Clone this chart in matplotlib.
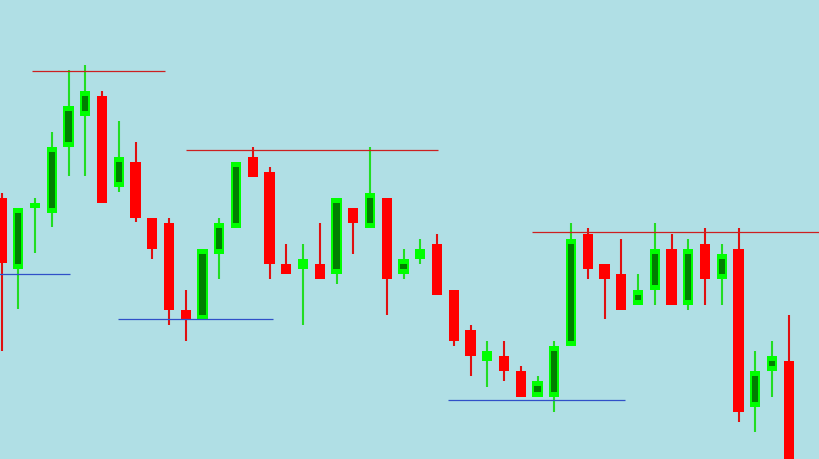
import numpy as np
import matplotlib.pyplot as plt

# OHLC (arbitrary price units, no axis shown)
opens = [261, 190, 251, 246, 312, 343, 363, 272, 297, 241, 236, 149, 139, 205, 231, 302,
         287, 195, 190, 195, 185, 251, 231, 261, 185, 200, 215, 169, 129, 98, 103, 88,
         62, 62, 113, 225, 195, 185, 154, 169, 210, 154, 215, 180, 210, 52, 88, 98]
highs = [266, 251, 261, 327, 389, 394, 368, 338, 317, 241, 241, 169, 210, 241, 297, 312,
         292, 215, 215, 236, 261, 251, 312, 261, 210, 220, 225, 169, 134, 118, 118, 93,
         83, 118, 236, 231, 195, 220, 185, 236, 225, 220, 231, 215, 231, 108, 118, 144]
lows = [108, 150, 206, 232, 283, 283, 256, 267, 237, 200, 134, 118, 139, 180, 231, 282,
        180, 185, 134, 180, 175, 205, 231, 144, 180, 195, 164, 113, 83, 72, 78, 62,
        62, 47, 113, 180, 140, 149, 154, 154, 154, 149, 154, 154, 37, 27, 62, -10]
closes = [196, 251, 256, 312, 353, 368, 256, 302, 241, 210, 149, 140, 210, 236, 297, 282,
          195, 185, 200, 180, 261, 236, 266, 180, 200, 210, 164, 118, 103, 108, 88, 62,
          78, 113, 220, 190, 180, 149, 169, 210, 154, 210, 180, 205, 47, 88, 103, -10]

# support / resistance levels: (level, start index, end index)
resist_levels = [388, 309, 227]
resist_start = [1.8, 11.0, 31.67]
resist_end = [9.75, 26.06, 49.0]
support_levels = [185, 140, 59]
support_start = [-0.2, 6.96, 26.66]
support_end = [4.09, 16.2, 37.22]

bg = '#B0DFE5'
bull = '#00FF00'
bull_inner = '#007F00'
bear = '#FF0000'

fig = plt.figure(figsize=(8.19, 4.60), dpi=100)
ax = fig.add_axes([0, 0, 1, 1])
ax.set_facecolor(bg)
fig.patch.set_facecolor(bg)

x = np.arange(len(opens))
o = np.array(opens, float)
h = np.array(highs, float)
l = np.array(lows, float)
c = np.array(closes, float)
up = c > o

body_w = 0.62
inset_x = 0.12
inset_y = 5

# wicks
ax.vlines(x[up], l[up], h[up], color='#22DD22', lw=1.5, zorder=1)
ax.vlines(x[~up], l[~up], h[~up], color='#E01010', lw=1.5, zorder=1)

# bearish bodies
ax.bar(x[~up], (o - c)[~up], bottom=c[~up], width=body_w, color=bear, zorder=2)

# bullish bodies: bright frame with dark centre
ax.bar(x[up], (c - o)[up], bottom=o[up], width=body_w, color=bull, zorder=2)
inner_h = (c - o)[up] - 2 * inset_y
keep = inner_h > 0
ax.bar(x[up][keep], inner_h[keep], bottom=o[up][keep] + inset_y,
       width=body_w - 2 * inset_x, color=bull_inner, zorder=3)

ax.hlines(resist_levels, resist_start, resist_end, color='#CC2020', lw=0.9, zorder=4)
ax.hlines(support_levels, support_start, support_end, color='#3050C8', lw=0.9, zorder=4)

ax.set_xlim(-1.5 / 16.75, (819 - 1.5) / 16.75)
ax.set_ylim(0, 460)
ax.axis('off')

fig.savefig('out.png', dpi=100, facecolor=bg)
